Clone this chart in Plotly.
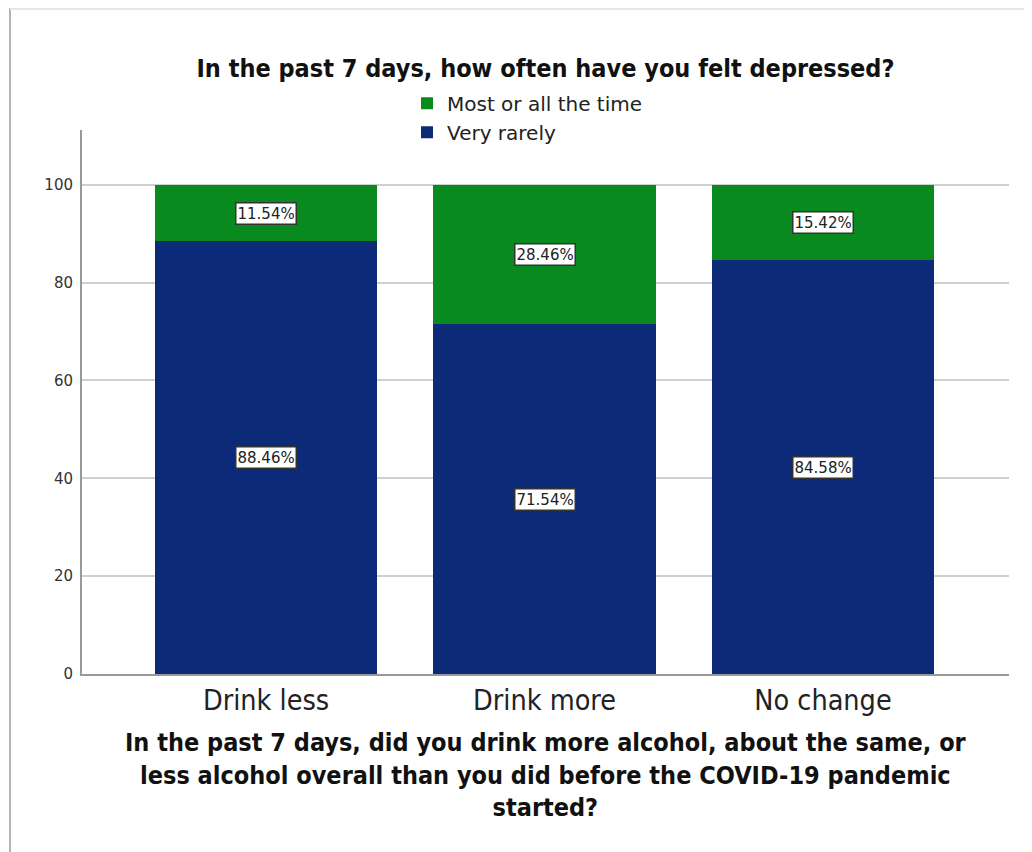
import plotly.graph_objects as go

categories = ["Drink less", "Drink more", "No change"]
very_rarely = [88.46, 71.54, 84.58]
most_time = [11.54, 28.46, 15.42]
y_ticks = [0, 20, 40, 60, 80, 100]
title_text = "In the past 7 days, how often have you felt depressed?"
x_title_lines = [
    "In the past 7 days, did you drink more alcohol, about the same, or",
    "less alcohol overall than you did before the COVID-19 pandemic",
    "started?",
]

navy = "#0c2a77"
green = "#088a1f"
cond = "DejaVu Sans Condensed, Liberation Sans Narrow, Arial Narrow, DejaVu Sans"

# plot area geometry in figure pixels
L, R, T, B = 74, 1001, 122, 666
PW, PH = R - L, B - T

fig = go.Figure()
fig.add_trace(go.Bar(x=categories, y=very_rarely, name="Very rarely",
                     marker=dict(color=navy, line=dict(width=0)), width=0.8))
fig.add_trace(go.Bar(x=categories, y=most_time, name="Most or all the time",
                     marker=dict(color=green, line=dict(width=0)), width=0.8))

annotations = []
for i, c in enumerate(categories):
    for base, val in [(0, very_rarely[i]), (very_rarely[i], most_time[i])]:
        annotations.append(dict(
            x=c, y=base + val / 2, xref="x", yref="y", text=f"{val:.2f}%",
            showarrow=False, font=dict(family="DejaVu Sans", size=15, color="#222"),
            bgcolor="white", bordercolor="#333", borderwidth=1.5, borderpad=1))

annotations.append(dict(
    x=0.5, y=(B - 767) / PH, xref="paper", yref="paper", yanchor="middle",
    xanchor="center", text="<br>".join(x_title_lines), showarrow=False, align="center",
    font=dict(family=cond, size=25, color="#111", weight="bold")))

fig.update_layout(
    barmode="stack",
    width=1032, height=852,
    paper_bgcolor="white", plot_bgcolor="white",
    margin=dict(l=L, r=1032 - R, t=T, b=852 - B),
    title=dict(text=title_text,
               x=0.5, xref="paper", y=1 - 60 / 852, yref="container", yanchor="middle",
               font=dict(family=cond, size=25, color="#111", weight="bold")),
    legend=dict(x=0.3506, y=1.085, xref="paper", yref="paper", xanchor="left", yanchor="top",
                traceorder="reversed", font=dict(family="DejaVu Sans", size=20, color="#222"),
                bgcolor="rgba(0,0,0,0)", tracegroupgap=0),
    xaxis=dict(range=[-0.661, 2.668], showgrid=False, showline=True, linecolor="#999",
               linewidth=2, ticks="", tickfont=dict(family=cond, size=28.5, color="#222"),
               fixedrange=True),
    yaxis=dict(range=[0, 111.2], tickvals=y_ticks, showgrid=True, gridcolor="#cfcfcf",
               gridwidth=1.5, showline=True, linecolor="#999", linewidth=2, ticks="",
               tickfont=dict(family="DejaVu Sans", size=15, color="#333"), zeroline=False,
               ticklabelstandoff=4),
    annotations=annotations,
    shapes=[
        dict(type="line", xref="paper", yref="paper", x0=(2 - L) / PW, x1=(2 - L) / PW,
             y0=(B - 852) / PH, y1=(B - 0) / PH, line=dict(color="#b5b5b5", width=2)),
        dict(type="line", xref="paper", yref="paper", x0=(2 - L) / PW, x1=(1032 - L) / PW,
             y0=(B - 1) / PH, y1=(B - 1) / PH, line=dict(color="#e6e6e6", width=2)),
    ],
)

fig.write_html("out.html")
